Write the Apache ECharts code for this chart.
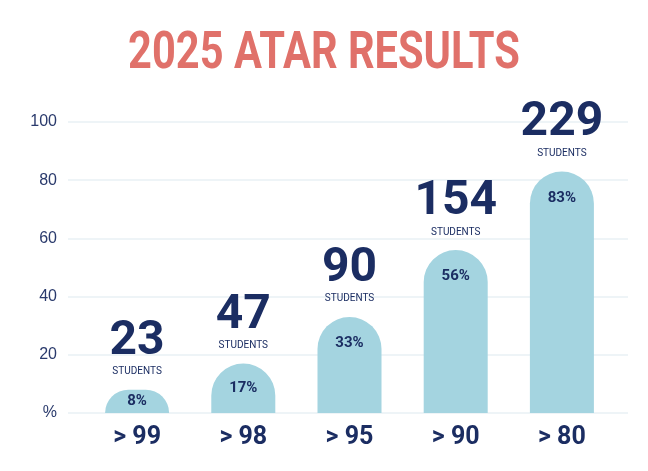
<!DOCTYPE html>
<html>
<head>
<meta charset="utf-8">
<script src="https://cdn.jsdelivr.net/npm/echarts@6/dist/echarts.min.js"></script>
<style>
html,body{margin:0;padding:0;background:#fff;}
#main{width:648px;height:471px;}
</style>
</head>
<body>
<div id="main"></div>
<script>
// ATAR 分段
var categories = ['> 99', '> 98', '> 95', '> 90', '> 80'];
// 学生占比 (%)
var percents = [8, 17, 33, 56, 83];
// 学生人数
var students = [23, 47, 90, 154, 229];
var yTicks = [0, 20, 40, 60, 80, 100];

var navy = '#1b2d62';
var barColor = '#a4d4e0';

var chart = echarts.init(document.getElementById('main'));

//柱子数据
var barData = percents.map(function(v, i){
	return {
		value: v,
		label: v < 20 ? {position:'inside'} : {position:'insideTop', distance:19}
	};
});

var option = {
	animation: false,
	graphic: [{
		type: 'text',
		x: 324, y: 55,
		scaleX: 0.8,
		style: {
			text: '2025 ATAR RESULTS',
			fontFamily: 'Roboto', fontWeight: 'bold', fontSize: 52,
			fill: '#e0716a',
			textAlign: 'center', textVerticalAlign: 'middle'
		}
	}],
	grid: [
		{left: 68, right: 20, top: 122, bottom: 58},
		{left: 84, right: 33, top: 122, bottom: 58}
	],
	xAxis: [
		{gridIndex: 0, type: 'category', data: categories, show: false},
		{
			gridIndex: 1, type: 'category', data: categories,
			axisLine: {show: false}, axisTick: {show: false},
			axisLabel: {color: navy, fontFamily: 'Roboto', fontWeight: 'bold', fontSize: 25, margin: 12}
		}
	],
	yAxis: [
		{
			gridIndex: 0, type: 'value', min: yTicks[0], max: yTicks[yTicks.length-1], interval: 20,
			axisLine: {show: false}, axisTick: {show: false},
			splitLine: {lineStyle: {color: '#e9f1f5', width: 1.5}},
			axisLabel: {
				color: '#2a3a6c', fontFamily: 'Liberation Sans', fontSize: 16, margin: 11,
				formatter: function(v){ return v === 0 ? '%' : v; }
			}
		},
		{gridIndex: 1, type: 'value', min: 0, max: 100, show: false}
	],
	series: [
		{
			//柱子 + 百分比
			type: 'bar', xAxisIndex: 1, yAxisIndex: 1,
			data: barData, barWidth: 64,
			itemStyle: {color: barColor, borderRadius: [32, 32, 0, 0]},
			label: {
				show: true, color: navy, fontFamily: 'Roboto', fontWeight: 'bold', fontSize: 15,
				formatter: '{c}%'
			},
			z: 3
		},
		{
			//人数标签
			type: 'bar', xAxisIndex: 1, yAxisIndex: 1,
			data: percents, barWidth: 64, barGap: '-100%',
			itemStyle: {color: 'rgba(0,0,0,0)'},
			label: {
				show: true, position: 'top', distance: 11,
				formatter: function(p){
					return '{n|' + students[p.dataIndex] + '}\n{s|STUDENTS}';
				},
				rich: {
					n: {color: navy, fontFamily: 'Roboto', fontWeight: 'bold', fontSize: 48, lineHeight: 46, align: 'center'},
					s: {color: navy, fontFamily: 'Roboto', fontSize: 10, lineHeight: 14, align: 'center'}
				}
			},
			z: 4
		}
	]
};
chart.setOption(option);
</script>
</body>
</html>
